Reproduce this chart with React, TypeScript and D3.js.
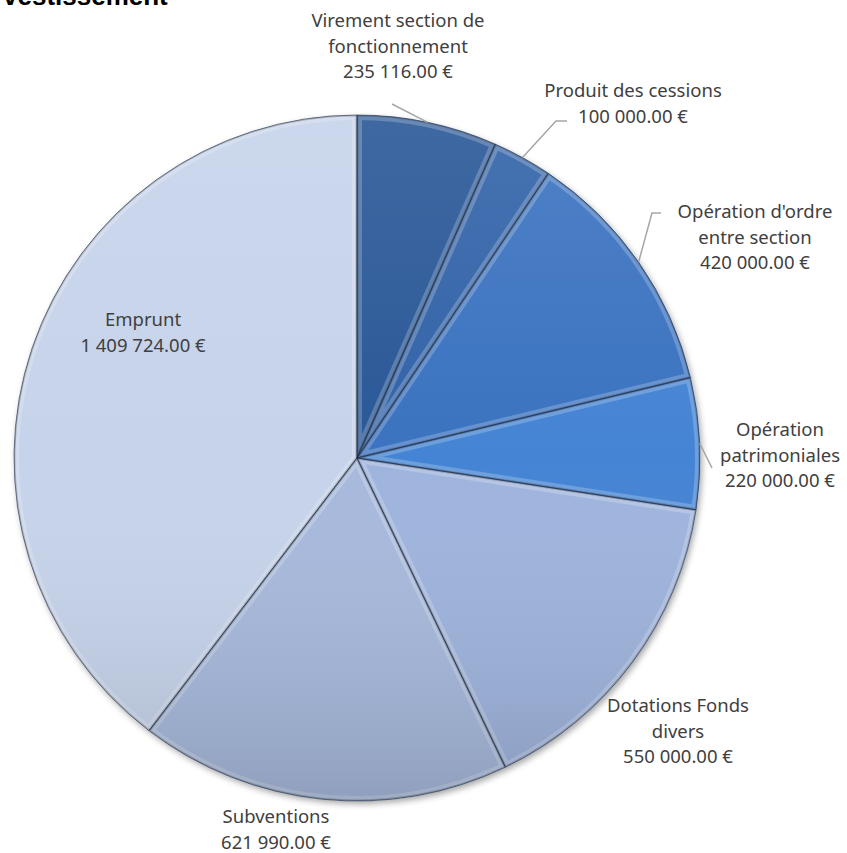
import React from "react";
import * as d3 from "d3";

const categories = [
  "Virement section de fonctionnement",
  "Produit des cessions",
  "Opération d'ordre entre section",
  "Opération patrimoniales",
  "Dotations Fonds divers",
  "Subventions",
  "Emprunt",
];
const values = [235116, 100000, 420000, 220000, 550000, 621990, 1409724];
const labelLines = [
  ["Virement section de", "fonctionnement"],
  ["Produit des cessions"],
  ["Opération d'ordre", "entre section"],
  ["Opération", "patrimoniales"],
  ["Dotations Fonds", "divers"],
  ["Subventions"],
  ["Emprunt"],
];
const colors = ["#2c5997", "#3264a8", "#3a73c0", "#4584d4", "#9fb4dd", "#a7b9dc", "#c6d3ea"];

// layout: label centre x, first baseline y, leader path points (after edge point)
const labelLayout = [
  { x: 398, y: 27, leader: [[392, 104]] },
  { x: 633, y: 97, leader: [[556, 121], [567, 121]] },
  { x: 755, y: 218, leader: [[652, 213], [661, 213]] },
  { x: 780, y: 436, leader: [[712, 468]] },
  { x: 678, y: 712, leader: [] },
  { x: 276, y: 823, leader: [] },
  { x: 143, y: 326, leader: [] },
];

const W = 847;
const H = 853;
const cx = 357;
const cy = 458;
const R = 343;

const loc = d3.formatLocale({ decimal: ".", thousands: " ", grouping: [3], currency: ["", " €"] });
const fmt = loc.format(",.2f");

export default function App() {
  const pie = d3.pie<number>().sort(null).value((d) => d)(values);
  const arc = d3.arc<d3.PieArcDatum<number>>().innerRadius(0).outerRadius(R);
  const font = "'Noto Sans', 'Open Sans', sans-serif";
  return (
    <svg width={W} height={H} style={{ position: "absolute", left: 0, top: 0 }}>
      <defs>
        <linearGradient id="shade" x1="0" y1="0" x2="0" y2="1">
          <stop offset="0" stopColor="#ffffff" stopOpacity={0.1} />
          <stop offset="0.5" stopColor="#ffffff" stopOpacity={0} />
          <stop offset="1" stopColor="#000000" stopOpacity={0.14} />
        </linearGradient>
        <filter id="shadow" x="-10%" y="-10%" width="120%" height="120%">
          <feDropShadow dx="2" dy="3" stdDeviation="3" floodColor="#000" floodOpacity="0.35" />
        </filter>
        {pie.map((p, i) => (
          <clipPath id={`clip${i}`} key={i}>
            <path d={arc(p) || ""} />
          </clipPath>
        ))}
      </defs>
      <text x={3} y={5} fontFamily="'Liberation Sans', Arial, sans-serif" fontWeight="bold" fontSize={26} fill="#000">
        vestissement
      </text>
      <g transform={`translate(${cx},${cy})`}>
        <g filter="url(#shadow)">
          {pie.map((p, i) => (
            <path key={i} d={arc(p) || ""} fill={colors[i]} />
          ))}
        </g>
        {pie.map((p, i) => (
          <g key={i} clipPath={`url(#clip${i})`}>
            <path d={arc(p) || ""} fill="none" stroke="#ffffff" strokeOpacity={0.22} strokeWidth={10} />
            <path d={arc(p) || ""} fill="none" stroke="#000000" strokeOpacity={0.2} strokeWidth={3} />
          </g>
        ))}
        <circle r={R} fill="url(#shade)" />
        {pie.map((p, i) => (
          <path key={i} d={arc(p) || ""} fill="none" stroke="#1a2b46" strokeOpacity={0.6} strokeWidth={1} />
        ))}
      </g>
      {pie.map((p, i) => {
        const lay = labelLayout[i];
        if (!lay.leader.length) return null;
        const mid = (p.startAngle + p.endAngle) / 2;
        const sx = cx + R * Math.sin(mid);
        const sy = cy - R * Math.cos(mid);
        const pts = [[sx, sy], ...lay.leader];
        return (
          <path
            key={i}
            d={d3.line()(pts as [number, number][]) || ""}
            fill="none"
            stroke="#a6a6a6"
            strokeWidth={1.5}
          />
        );
      })}
      {pie.map((p, i) => {
        const lay = labelLayout[i];
        const lines = [...labelLines[i], `${fmt(values[i])} €`];
        return (
          <text key={i} fontFamily={font} fontSize={18.5} fill="#404040" textAnchor="middle">
            {lines.map((l, j) => (
              <tspan key={j} x={lay.x} y={lay.y + j * 25.5}>
                {l}
              </tspan>
            ))}
          </text>
        );
      })}
    </svg>
  );
}
